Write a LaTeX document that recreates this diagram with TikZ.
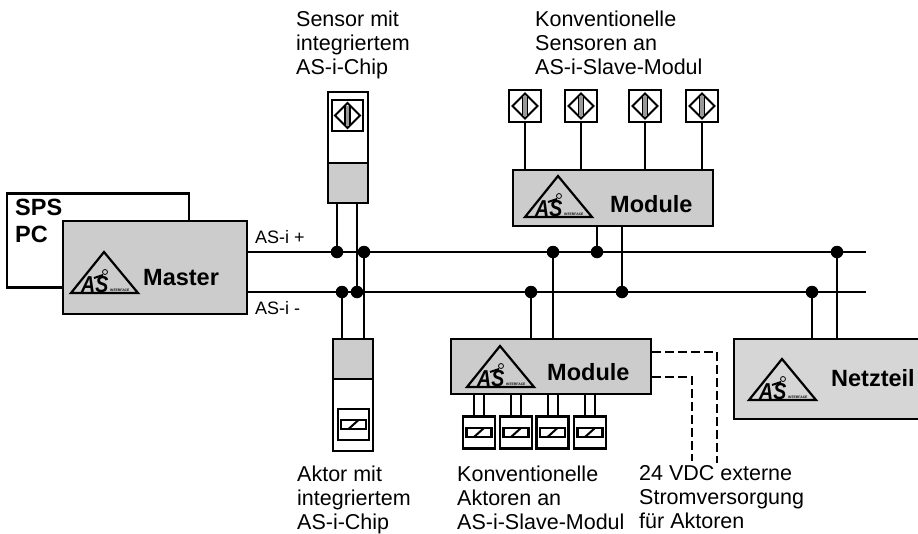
\documentclass[tikz,border=0pt]{standalone}
\usepackage{fontspec}
\setmainfont{Liberation Sans}
\tikzset{
    box/.style = {draw, line width = 2.3pt, inner sep = 0pt},
    grey/.style = {box, fill = black!20},
    term/.style = {box, fill = white, minimum size = 31pt},
    dot/.style = {circle, fill = black, minimum size = 12.5pt, inner sep = 0pt},
    wire/.style = {line width = 2pt},
    supply/.style = {line width = 2pt, dash pattern = on 9pt off 4pt},
    label/.style = {anchor = north west, align = left, inner sep = 0pt, font = \fontsize{21.5}{24}\selectfont},
    small/.style = {anchor = base west, inner sep = 0pt, font = \fontsize{18}{20}\selectfont},
    title/.style = {anchor = base west, inner sep = 0pt, font = \fontsize{23.5}{27}\selectfont\bfseries},
    aslogo/.pic = {
        \draw [line width = 2.2pt, line join = miter] (0, 0) -- (-33, 41) -- (34, 41) -- cycle;
        \draw [line width = .8pt] (1, 20) circle (2.5);
        \draw [line width = 2pt] (-1, 23) -- (-10, 26);
        \node [anchor = base west, inner sep = 0pt, xscale = .85, font = \fontsize{23}{23}\selectfont\bfseries\itshape] at (-23, 40.5) {AS};
        \node [anchor = base west, inner sep = 0pt, font = \fontsize{3.4}{4}\selectfont\bfseries] at (6, 39.5) {INTERFACE};
    },
    sensorsym/.pic = {
        \draw [line width = 2pt] (-12.5, 0) -- (0, -12.5) -- (12.5, 0) -- (0, 12.5) -- cycle;
        \fill [black!40] (-2, -10) rectangle (2, 10);
        \draw [line width = 1.8pt] (-2.5, -10) -- (-2.5, 10);
        \draw [line width = 1.8pt] (2.5, -10) -- (2.5, 10);
    },
    aktorsym/.pic = {
        \draw [line width = 2.6pt, fill = white] (-12.5, -4.5) rectangle (12.5, 4.5);
        \draw [line width = 2pt] (-5, 4.5) -- (5, -4.5);
    }
}

\begin{document}
\begin{tikzpicture}[x = 1pt, y = -1pt]
    \useasboundingbox (0, 0) rectangle (918, 533);
    \node [box, minimum width = 182pt, minimum height = 94pt] (SP) at (98, 240.5) {};
    \node [title] (SPa) at (15, 215) {SPS};
    \node [title] (SPb) at (15, 242) {PC};
    \node [grey, minimum width = 184pt, minimum height = 93pt] (MA) at (155, 267.5) {};
    \node [title] (MAt) at (143, 285) {Master};
    \pic at (104, 252) {aslogo};

    \node [box, fill = white, minimum width = 40pt, minimum height = 71pt] (ST) at (348, 127.5) {};
    \node [grey, minimum width = 40pt, minimum height = 40pt] (SB) at (348, 183) {};
    \node [term] (SS) at (347.5, 115.5) {};
    \pic at (SS) {sensorsym};
    \node [grey, minimum width = 40pt, minimum height = 40pt] (AT) at (353, 359) {};
    \node [box, fill = white, minimum width = 40pt, minimum height = 72pt] (AB) at (353, 415) {};
    \node [term] (AS) at (353.5, 424.5) {};
    \pic at (AS) {aktorsym};

    \node [grey, minimum width = 200pt, minimum height = 56pt] (MO) at (613, 198) {};
    \node [title] (MOt) at (610, 212) {Module};
    \pic at (558, 176) {aslogo};
    \node [term, minimum size = 32pt] (Sa) at (525, 106) {};
    \node [term, minimum size = 32pt] (Sb) at (581, 106) {};
    \node [term, minimum size = 32pt] (Sc) at (645, 106) {};
    \node [term, minimum size = 32pt] (Sd) at (702, 106) {};
    \pic at (Sa) {sensorsym};
    \pic at (Sb) {sensorsym};
    \pic at (Sc) {sensorsym};
    \pic at (Sd) {sensorsym};

    \node [grey, minimum width = 200pt, minimum height = 55pt] (MU) at (551, 366.5) {};
    \node [title] (MUt) at (547, 380) {Module};
    \pic at (500, 346) {aslogo};
    \node [term, minimum size = 32pt] (Aa) at (479, 432.5) {};
    \node [term, minimum size = 32pt] (Ab) at (516, 432.5) {};
    \node [term, minimum size = 32pt] (Ac) at (552.5, 432.5) {};
    \node [term, minimum size = 32pt] (Ad) at (590, 432.5) {};
    \pic at (Aa) {aktorsym};
    \pic at (Ab) {aktorsym};
    \pic at (Ac) {aktorsym};
    \pic at (Ad) {aktorsym};

    \node [grey, fill = black!16, minimum width = 190pt, minimum height = 80pt] (NT) at (829, 379) {};
    \node [title] (NTt) at (831, 386) {Netzteil};
    \pic at (782, 359) {aslogo};

    \node [dot] (Pa) at (337, 252) {};
    \node [dot] (Pb) at (364, 252) {};
    \node [dot] (Pc) at (553, 252) {};
    \node [dot] (Pd) at (597, 252) {};
    \node [dot] (Pe) at (837, 252) {};
    \node [dot] (Na) at (342, 292) {};
    \node [dot] (Nb) at (357, 292) {};
    \node [dot] (Nc) at (531, 292) {};
    \node [dot] (Nd) at (622, 292) {};
    \node [dot] (Ne) at (812, 292) {};
    \coordinate (PE) at (866, 252);
    \coordinate (NE) at (866, 292);

    \draw [wire] (MA.east |- PE) -- (PE);
    \draw [wire] (MA.east |- NE) -- (NE);
    \node [small] (LP) at (255, 243) {AS-i +};
    \node [small] (LN) at (255, 314) {AS-i -};

    \draw [wire] (Pa) -- (Pa |- SB.south);
    \draw [wire] (Nb) -- (Nb |- SB.south);
    \draw [wire] (Na) -- (Na |- AT.north);
    \draw [wire] (Pb) -- (Pb |- AT.north);
    \draw [wire] (Sa) -- (Sa |- MO.north);
    \draw [wire] (Sb) -- (Sb |- MO.north);
    \draw [wire] (Sc) -- (Sc |- MO.north);
    \draw [wire] (Sd) -- (Sd |- MO.north);
    \draw [wire] (Pd) -- (Pd |- MO.south);
    \draw [wire] (Nd) -- (Nd |- MO.south);
    \draw [wire] (Nc) -- (Nc |- MU.north);
    \draw [wire] (Pc) -- (Pc |- MU.north);
    \draw [wire] (Ne) -- (Ne |- NT.north);
    \draw [wire] (Pe) -- (Pe |- NT.north);
    \draw [wire] ([xshift = -5pt] Aa.north) -- ([xshift = -5pt] Aa.north |- MU.south);
    \draw [wire] ([xshift = 5pt] Aa.north) -- ([xshift = 5pt] Aa.north |- MU.south);
    \draw [wire] ([xshift = -5pt] Ab.north) -- ([xshift = -5pt] Ab.north |- MU.south);
    \draw [wire] ([xshift = 5pt] Ab.north) -- ([xshift = 5pt] Ab.north |- MU.south);
    \draw [wire] ([xshift = -5pt] Ac.north) -- ([xshift = -5pt] Ac.north |- MU.south);
    \draw [wire] ([xshift = 5pt] Ac.north) -- ([xshift = 5pt] Ac.north |- MU.south);
    \draw [wire] ([xshift = -5pt] Ad.north) -- ([xshift = -5pt] Ad.north |- MU.south);
    \draw [wire] ([xshift = 5pt] Ad.north) -- ([xshift = 5pt] Ad.north |- MU.south);

    \coordinate (DA) at (717, 352);
    \coordinate (DB) at (692, 377);
    \coordinate (DAe) at (717, 463);
    \coordinate (DBe) at (692, 461);
    \draw [supply] (MU.east |- DA) -- (DA) -- (DAe);
    \draw [supply] (MU.east |- DB) -- (DB) -- (DBe);

    \node [label] (TS) at (296, 11) {Sensor mit\\integriertem\\AS-i-Chip};
    \node [label] (TK) at (535, 11) {Konventionelle\\Sensoren an\\AS-i-Slave-Modul};
    \node [label] (TA) at (297, 465.5) {Aktor mit\\integriertem\\AS-i-Chip};
    \node [label] (TL) at (457, 465.5) {Konventionelle\\Aktoren an\\AS-i-Slave-Modul};
    \node [label] (TV) at (639, 465.5) {24 VDC externe\\Stromversorgung\\für Aktoren};
\end{tikzpicture}
\end{document}
